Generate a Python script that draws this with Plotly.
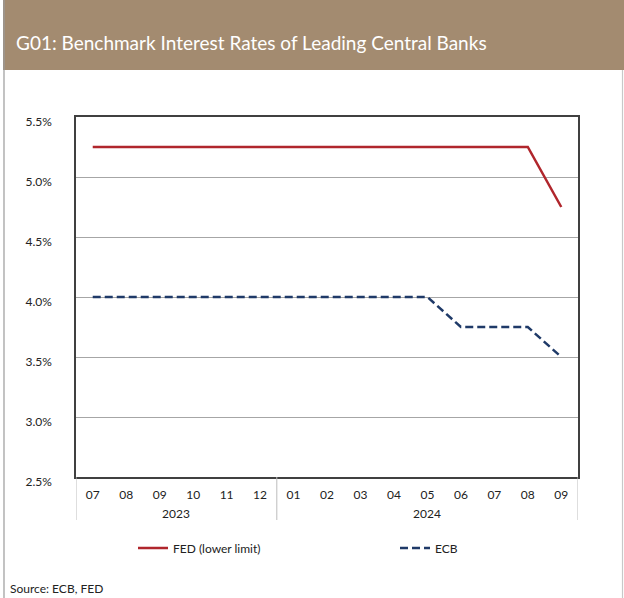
import plotly.graph_objects as go

months = ["07", "08", "09", "10", "11", "12", "01", "02", "03", "04", "05", "06", "07", "08", "09"]
years = ["2023", "2024"]
year_spans = [(0, 5), (6, 14)]
fed = [5.25, 5.25, 5.25, 5.25, 5.25, 5.25, 5.25, 5.25, 5.25, 5.25, 5.25, 5.25, 5.25, 5.25, 4.75]
ecb = [4.0, 4.0, 4.0, 4.0, 4.0, 4.0, 4.0, 4.0, 4.0, 4.0, 4.0, 3.75, 3.75, 3.75, 3.5]
y_ticks = [2.5, 3.0, 3.5, 4.0, 4.5, 5.0, 5.5]

W, H = 624, 598
L, R, T, B = 76, 46, 117, 121
PW, PH = W - L - R, H - T - B

def px(x):
    return (x - L) / PW

def py(y):
    return (H - B - y) / PH

FONT = "Lato"
idx = list(range(len(months)))

fig = go.Figure()
fig.add_trace(go.Scatter(x=idx, y=fed, mode="lines", name="FED (lower limit)",
                         line=dict(color="#B0262C", width=2.5), legend="legend"))
fig.add_trace(go.Scatter(x=idx, y=ecb, mode="lines", name="ECB",
                         line=dict(color="#1F3A68", width=2.5, dash="8px,4px"), legend="legend2"))

shapes = []
shapes.append(dict(type="rect", xref="paper", yref="paper", x0=px(3), x1=px(625), y0=py(70), y1=py(-1),
                   fillcolor="#A38B70", line=dict(width=0), layer="below"))
shapes.append(dict(type="line", xref="paper", yref="paper", x0=px(4), x1=px(4), y0=py(0), y1=py(598),
                   line=dict(color="#9A9A9A", width=1.2)))
shapes.append(dict(type="line", xref="paper", yref="paper", x0=px(622.5), x1=px(622.5), y0=py(70), y1=py(598),
                   line=dict(color="#C8C8C8", width=1.2)))
for xs in [-0.5, 5.5, 14.5]:
    shapes.append(dict(type="line", xref="x", yref="paper", x0=xs, x1=xs, y0=0, y1=py(520),
                       line=dict(color="#BDBDBD", width=1)))

annotations = []
annotations.append(dict(text="G01: Benchmark Interest Rates of Leading Central Banks", xref="paper", yref="paper",
                        x=px(14), y=py(42), xanchor="left", yanchor="middle", showarrow=False,
                        font=dict(family=FONT, size=19, color="#FFFFFF")))
for yr, (a, b) in zip(years, year_spans):
    annotations.append(dict(text=yr, xref="x", yref="paper", x=(a + b) / 2, y=py(513), xanchor="center",
                            yanchor="middle", showarrow=False, font=dict(family=FONT, size=12, color="#222")))
annotations.append(dict(text="Source: ECB, FED", xref="paper", yref="paper", x=px(8), y=py(588),
                        xanchor="left", yanchor="middle", showarrow=False,
                        font=dict(family=FONT, size=12, color="#222")))

legend_common = dict(orientation="h", yanchor="middle", xanchor="left", bgcolor="rgba(0,0,0,0)",
                     font=dict(family=FONT, size=12, color="#222"))

fig.update_layout(
    width=W, height=H, margin=dict(l=L, r=R, t=T, b=B),
    paper_bgcolor="white", plot_bgcolor="white",
    font=dict(family=FONT, size=12, color="#222"),
    shapes=shapes, annotations=annotations,
    showlegend=True,
    legend=dict(x=px(133), y=py(548), **legend_common),
    legend2=dict(x=px(395), y=py(548), **legend_common),
    xaxis=dict(range=[-0.5, 14.5], tickmode="array", tickvals=idx, ticktext=months, showgrid=False,
               zeroline=False, showline=True, linecolor="#404040", linewidth=1.5, mirror=True,
               ticks="outside", ticklen=6, tickcolor="rgba(0,0,0,0)", fixedrange=True),
    yaxis=dict(range=[2.5, 5.5], tickmode="array", tickvals=y_ticks,
               ticktext=[f"{v:.1f}%" for v in y_ticks], showgrid=True, gridcolor="#A6A6A6", gridwidth=1,
               zeroline=False, showline=True, linecolor="#404040", linewidth=1.5, mirror=True,
               ticks="outside", ticklen=20, tickcolor="rgba(0,0,0,0)", ticklabelshift=5,
               fixedrange=True),
)

fig.write_html("out.html")
